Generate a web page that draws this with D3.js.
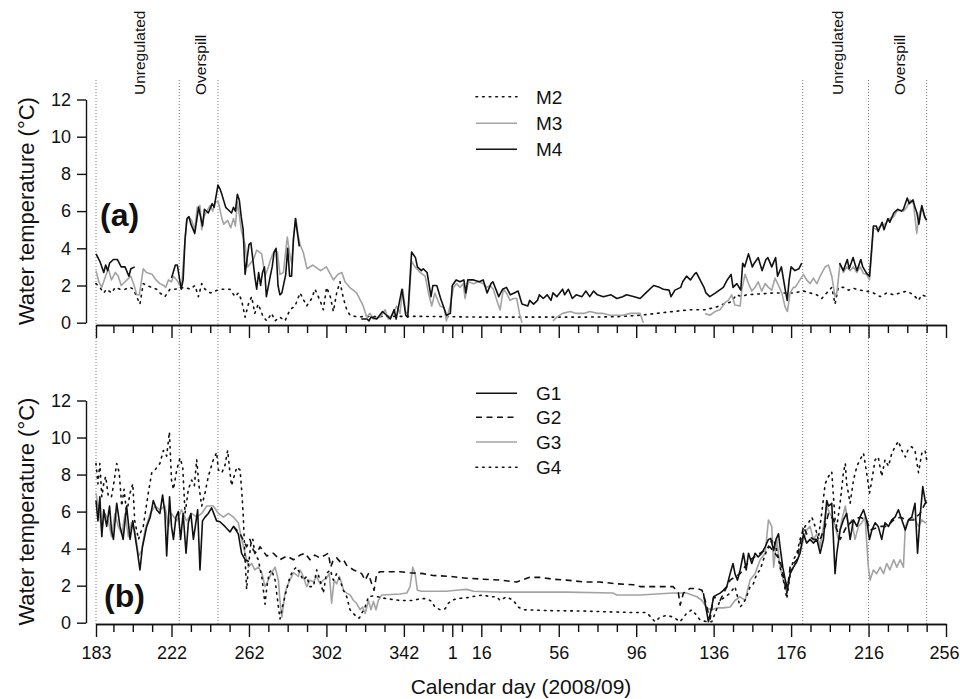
<!DOCTYPE html>
<html>
<head>
<meta charset="utf-8">
<script src="https://cdn.jsdelivr.net/npm/d3@7"></script>
<style>
  body { margin: 0; background: #fff; }
  svg { display: block; font-family: "Liberation Sans", Arial, Helvetica, sans-serif; }
</style>
</head>
<body>
<svg id="chart" width="960" height="699"></svg>
<script>
// days are counted on from 2008: day 1 of 2009 = 367
const tickDays = [183, 222, 262, 302, 342, 367, 382, 422, 462, 502, 542, 582, 622];
const tickLabels = ['183', '222', '262', '302', '342', '1', '16', '56', '96', '136', '176', '216', '256'];
const yTicks = [0, 2, 4, 6, 8, 10, 12];

// period limits (unregulated / overspill), 2008 and 2009
const periodDays = [183, 226, 246, 548, 582, 612];
const periodLabels = [
  { from: 183, to: 226, text: 'Unregulated' },
  { from: 226, to: 246, text: 'Overspill' },
  { from: 548, to: 582, text: 'Unregulated' },
  { from: 582, to: 612, text: 'Overspill' },
];

// panel (a)
const M2 = [[183,2.1],[185,1.9],[187,1.6],[188.5,1.8],[191,1.6],[193,1.9],[195.4,1.8],[198,1.8],[200.6,1.9],[202.3,1.8],[204,1.4],[205.7,1.0],[207.4,2.1],[209.2,2.0],[211.8,1.9],[214.3,1.8],[216,1.6],[218.6,1.4],[221.2,1.8],[223.8,1.8],[226.4,1.85],[229,1.9],[231.6,1.8],[234.1,2.0],[235.9,1.4],[237.6,2.1],[239.3,1.8],[242,1.6],[244.5,1.7],[247,1.8],[249.6,1.8],[252.2,1.8],[254.8,1.4],[256.5,1.6],[258.2,1.2],[260,0.3],[261.7,1.0],[263.4,1.4],[265,0.5],[266.8,1.0],[269.4,0.3],[271.2,0.1],[273.7,0.5],[275.5,0.1],[278,0.3],[280.6,0.1],[283.2,0.7],[285.8,0.9],[288.4,1.6],[291.8,0.9],[294.4,1.3],[296.1,1.8],[298.7,1.2],[300.4,0.7],[302.1,1.9],[304,1.4],[305.6,0.6],[307.3,1.6],[309,2.2],[310.8,1.3],[312.5,0.7],[314.2,0.4],[317.6,0.32],[331,0.34],[349,0.34],[366,0.32],[383,0.3],[400,0.3],[418,0.3],[435,0.3],[452,0.32],[464,0.4],[472.6,0.5],[481,0.6],[490,0.7],[498,0.7],[503.6,0.85],[507,1.0],[510.5,1.1],[514,1.5],[516.5,1.4],[519,1.5],[533,1.6],[543,1.6],[548.4,1.7],[551.8,1.6],[555.3,1.5],[557.8,1.3],[560.4,1.6],[563,1.9],[564.7,1.0],[566.4,1.9],[569,1.9],[571.6,1.75],[574.2,1.85],[577.6,1.75],[581,1.7],[584.5,1.6],[588,1.4],[591.4,1.6],[595,1.5],[598.3,1.6],[601.7,1.7],[605.2,1.5],[607.8,1.2],[609.5,1.5],[612,1.4]];

const M3 = [[183,2.8],[184.5,2.2],[186,1.9],[187.6,2.4],[189.4,2.9],[191,2.3],[193,2.7],[194.5,2.5],[196,2.0],[199,2.3],[201,2.5],[203,1.9],[204,1.5],[205.4,1.5],[207.4,2.9],[209,2.7],[212,2.6],[214,2.3],[216,2.1],[218,2.0],[219,1.9],[220.4,2.3],[222,2.2],[223,2.5],[224.7,2.3],[226.4,2.0],[227.4,2.2],[228.5,3.8],[229.8,5.5],[231,5.7],[232.4,5.5],[234,5.0],[235.3,6.2],[236.7,6.3],[237.6,5.0],[238.8,5.7],[240.2,6.0],[242,6.3],[243.3,6.0],[244.5,6.5],[246.2,6.5],[248,5.6],[249,5.3],[251,5.5],[252.6,5.1],[254,5.6],[255,5.2],[256,6.5],[257,5.8],[258,5.0],[260,4.2],[261.3,3.0],[264.3,3.4],[266,3.9],[268.6,3.7],[270.3,2.5],[272,3.0],[273.2,3.4],[274.3,3.7],[275.5,3.9],[276.7,3.8],[278,2.6],[279.8,2.7],[280.6,3.5],[281.8,4.6],[283.2,3.6],[284.1,3.2],[284.9,4.5],[286.3,5.6],[287.2,4.8],[288.4,4.2],[290,3.8],[292,2.9],[295,3.1],[299,2.8],[302,3.0],[305.6,2.3],[308,2.6],[310,2.7],[311.6,2.2],[314,1.9],[317.6,1.6],[321,0.9],[322.8,0.3],[324.5,0.5],[326.3,0.2],[329.7,0.3],[332.3,0.7],[334,0.2],[336.6,0.5],[338.3,0.9],[340,0.5],[341.4,1.8],[343,0.5],[344.3,0.6],[346,3.3],[347.8,3.0],[350.4,2.7],[353,2.5],[354.7,1.6],[356.4,0.9],[358,1.6],[360.7,0.9],[362.8,0.8],[364,0.1],[365.8,0.9],[367.6,1.9],[369.3,2.1],[371,1.9],[372.7,2.1],[373.6,1.3],[375.3,2.2],[378,2.1],[380.5,2.2],[383,2.1],[384.8,1.9],[386.5,2.0],[388.2,1.8],[390,1.2],[391.7,0.7],[393.4,1.8],[395,1.6],[396.8,1.2],[398.6,1.3],[400.3,1.3],[401.7,0.5],[403,0.0],[404,null],[419,0.1],[421,0.3],[424,0.5],[428,0.6],[431,0.5],[435,0.5],[438,0.6],[442,0.5],[445,0.5],[448.5,0.4],[452,0.4],[455,0.4],[459,0.5],[464,0.5],[465.7,0.0],[466,null],[497.6,0.5],[500,0.4],[502.7,0.6],[505.3,0.7],[508,1.1],[509.6,1.2],[511.3,1.5],[513,0.95],[515.7,0.9],[516.5,1.75],[518.2,2.6],[520,2.1],[521.7,1.7],[523.4,1.9],[525,2.2],[526.8,1.7],[528.6,2.1],[530.3,1.9],[532,1.75],[533.7,2.4],[535.5,2.0],[537.2,1.6],[538.9,0.85],[540.1,0.6],[541.5,1.6],[543.2,1.9],[544.1,1.9],[548.4,2.6],[550,2.3],[551.8,2.1],[553.5,2.4],[555.3,2.1],[557,2.5],[559.6,3.0],[561.3,3.1],[563,2.5],[564.7,1.4],[565.6,1.6],[567.3,3.2],[569,2.7],[570.7,3.0],[572.5,2.8],[574.2,3.0],[575.9,2.7],[577.6,3.0],[579.4,2.65],[581,2.6],[582.5,2.3],[583.7,3.9],[584.5,5.1],[586.2,5.0],[588,5.2],[589.7,5.25],[591.4,5.4],[593,5.6],[595,5.7],[596.6,6.0],[598.3,6.05],[600,6.0],[601.7,6.2],[603.5,6.6],[605.2,6.4],[606.9,4.8],[608.3,5.9],[609.5,6.2],[611.2,5.6],[612,5.6]];

const M4 = [[183,3.7],[185,3.3],[187,2.7],[188,3.1],[189,2.8],[190,3.2],[192,3.4],[194,3.4],[195,3.2],[196,3.0],[198,3.0],[200,2.5],[201,2.9],[203,3.0],[204,null],[222,2.4],[224,3.1],[225,3.1],[227,1.8],[228,2.3],[229,4.5],[230,5.6],[231,5.7],[232,5.3],[234,4.8],[236,6.2],[238,5.2],[239,6.1],[241,5.9],[243,6.4],[244,6.2],[246,7.4],[247,7.2],[248,6.9],[250,6.2],[251,6.1],[253,5.9],[254,6.2],[255,6.0],[256,6.9],[257,6.6],[258,5.7],[259,5.0],[260,2.6],[262,4.2],[263,4.3],[265,2.5],[266,1.8],[267,2.7],[268,2.0],[269,2.7],[270,3.0],[271,1.4],[273,2.5],[274,3.0],[275,3.8],[276,4.0],[277,2.0],[278,1.5],[279,1.6],[281,2.6],[282,4.0],[283,2.5],[284,2.5],[285,4.5],[286,5.6],[288,4.1],[289,null],[320,0.2],[323,0.2],[324,0.1],[325,0.3],[328,0.2],[331,0.6],[333,0.4],[335,0.2],[337,0.7],[338,0.2],[341,1.8],[343,0.4],[344,0.3],[346,3.8],[348,3.5],[349,3.0],[351,2.8],[352,2.9],[354,2.7],[356,1.4],[357,2.0],[359,2.0],[361,1.3],[362,1.0],[364,0.4],[366,0.5],[367,2.0],[369,2.3],[371,2.2],[373,2.3],[374,1.6],[375,2.3],[378,2.3],[381,2.2],[383,2.3],[385,1.6],[387,2.1],[388,2.2],[391,1.4],[393,1.8],[395,1.9],[397,1.5],[399,1.6],[401,1.7],[403,1.0],[406,0.9],[407,1.2],[409,1.0],[411,1.2],[412,1.5],[414,1.3],[416,1.5],[418,1.2],[419,1.6],[421,1.4],[424,1.8],[425,1.5],[427,1.8],[429,1.3],[431,1.5],[434,1.4],[436,1.7],[438,1.4],[440,1.7],[442,1.5],[445,1.4],[449,1.5],[452,1.3],[455,1.4],[457,1.5],[461,1.4],[464,1.3],[467,1.6],[471,2.0],[474,1.9],[476,1.8],[479,1.75],[480,1.4],[482,1.75],[485,1.9],[486,2.2],[488,2.5],[490,2.3],[492,2.6],[493,2.7],[495,2.3],[497,1.9],[498,1.6],[500,1.4],[503,1.6],[505,1.75],[507,1.9],[509,2.3],[511,2.6],[512,1.9],[514,2.1],[516,1.75],[517,3.2],[518,3.0],[520,3.7],[522,3.0],[523,3.2],[525,3.5],[527,2.8],[529,3.4],[530,3.5],[532,3.0],[534,3.5],[535,2.5],[537,3.0],[539,1.75],[540,1.2],[541,2.3],[542,3.0],[544,2.8],[546,2.9],[547.5,3.2],[548.5,null],[567,3.2],[569,2.8],[571,3.4],[572,2.9],[574,3.5],[576,2.8],[578,3.4],[579,3.0],[581,2.65],[582.5,2.5],[583.7,4.1],[584.5,5.2],[586,5.2],[587,4.9],[589,5.4],[590,5.0],[592,5.6],[593,5.4],[595,5.9],[597,6.1],[599,6.0],[600,6.1],[602,6.7],[603,6.4],[605,6.6],[606,6.2],[607,5.9],[608,5.3],[609.5,6.3],[611,5.7],[612,5.5]];

// panel (b)
const G1 = [[183,6.6],[184,5.5],[185,6.8],[186,4.65],[187,6.1],[188.5,5.2],[190,6.3],[191,5.0],[192,4.5],[193.7,6.45],[195.4,5.2],[197,4.5],[198.8,6.3],[200.6,4.5],[202,5.5],[203,4.8],[204.3,3.9],[205.7,2.85],[207,4.1],[209.2,5.2],[211,5.7],[212.6,6.6],[214.3,6.1],[216,5.9],[217.4,6.9],[218.6,5.9],[219.5,3.6],[221,6.8],[222,5.2],[223,4.5],[224.3,5.7],[225.5,6.0],[226.7,4.5],[228,5.9],[229.5,3.75],[230.7,5.4],[232,5.9],[233.3,4.5],[234.7,5.5],[235.5,6.1],[236.7,2.85],[238,5.5],[239.3,5.7],[241,5.9],[242.7,6.2],[245.3,5.5],[247,5.45],[249.6,5.2],[252.2,4.9],[254,5.2],[256.5,4.8],[258.2,3.75],[260,3.4],[262,3.3],[263,null],[496.7,1.6],[499.3,0.05],[501,0.85],[502,1.4],[503.6,1.5],[505.3,1.6],[507,1.75],[508.8,1.95],[510.5,2.65],[512,3.2],[513,2.65],[514.3,2.3],[515.7,2.85],[517.4,3.75],[518.8,2.85],[520,3.75],[521.7,3.2],[523.4,3.75],[525,3.55],[526.8,3.75],[528.6,4.1],[530.3,4.5],[531.5,4.55],[533,3.9],[534.2,4.5],[535.5,4.8],[536.3,4.1],[537.7,3.0],[539,2.3],[540.1,1.85],[541.5,2.65],[543.2,3.0],[545,3.3],[546.6,3.75],[548.4,4.8],[550,4.3],[551.8,4.5],[553.5,4.3],[555.3,4.5],[557,3.75],[558.7,4.5],[560.4,6.6],[561.3,6.3],[563,6.45],[564.7,2.65],[565.6,3.75],[567.3,5.0],[569,5.55],[570.7,5.9],[572.5,4.5],[574.2,5.55],[576,5.2],[577.6,5.7],[579.4,6.1],[581,5.55],[582.5,4.5],[583.7,5.0],[585.4,5.4],[587,5.2],[588.8,4.5],[590.5,5.4],[592.3,5.2],[594,5.55],[595.7,5.7],[597.4,6.1],[599.2,5.55],[601,5.0],[602.6,5.55],[604.3,5.7],[606,6.45],[607.3,3.75],[608.6,5.7],[610,7.35],[611.2,6.6],[612,6.45]];

const G2 = [[254,5.2],[257.4,4.8],[260.8,4.1],[262.5,4.5],[264.3,3.9],[266,3.75],[267.7,4.1],[271.2,3.6],[274.6,3.75],[278,3.4],[281.5,3.6],[285,3.4],[288.4,3.65],[291,3.75],[293.5,3.4],[296,3.65],[298.7,3.5],[301.3,3.65],[303,3.75],[304.2,3.0],[305.6,3.4],[307.3,3.5],[309,3.3],[310.8,3.4],[312.5,3.1],[316,2.85],[318.5,2.75],[320.2,2.65],[322,2.3],[323.7,2.65],[325.4,2.1],[326.6,1.75],[328,2.65],[329.7,2.75],[340,2.75],[345,2.7],[352,2.65],[357,2.55],[366,2.5],[374.5,2.4],[383,2.35],[391.7,2.3],[400.3,2.2],[403,2.3],[407,2.45],[412,2.45],[419,2.35],[426,2.3],[435,2.2],[443,2.2],[452,2.1],[460.5,2.05],[464,1.95],[472.6,1.95],[481,1.95],[483.8,1.6],[484.7,0.95],[486.4,1.6],[489.8,1.85],[493.3,1.85],[496,1.75],[497.6,1.2],[499.3,0.5],[500.2,0.2],[502,1.4],[505.3,1.2],[510.5,2.3],[515.7,2.65],[520.8,3.4],[526,3.75],[531,4.1],[536.3,3.4],[539.8,1.6],[541.5,3.0],[545,3.4],[548.4,5.2],[550,4.8],[553.5,4.5],[557,4.5],[559.6,5.2],[561.3,5.9],[564,5.55],[567.3,4.5],[570.7,5.2],[574.2,5.55],[577.6,5.7],[581,5.55],[582.8,5.0],[588,5.2],[591.4,5.2],[595,5.55],[598.3,5.7],[601.7,5.55],[605.2,5.55],[608.6,5.9],[612,6.6]];

const G3 = [[183,7.0],[184.7,5.9],[186,5.0],[187.6,5.9],[189.4,5.5],[191,4.65],[192.8,5.9],[194.5,5.2],[196.3,4.8],[198,5.9],[199.7,4.65],[201.4,5.4],[203,5.0],[205,3.6],[206.6,3.9],[208.3,5.0],[211,5.9],[213.5,6.3],[216,6.1],[218.6,6.3],[220.4,5.2],[222,5.9],[224.7,5.5],[227.2,6.1],[229.8,5.5],[232.4,5.9],[235,5.7],[237.6,5.9],[240.2,6.3],[243.6,6.3],[246.2,5.9],[248.8,5.7],[251.4,5.9],[254,5.7],[256.5,5.4],[258.2,4.5],[260,3.75],[261.7,3.0],[263.4,3.2],[265,2.85],[266.8,3.0],[268.6,2.7],[270.3,1.95],[272,2.3],[273.7,2.7],[275.5,3.0],[277.2,2.3],[278,1.2],[279,0.3],[280.6,1.6],[282.3,2.1],[285,2.7],[287.5,2.5],[288.4,2.85],[290,2.5],[291.8,1.95],[293.5,2.3],[295.3,2.2],[297,2.5],[298.7,2.1],[300.4,2.3],[302,2.4],[303.5,2.65],[304.7,1.05],[306,2.3],[307.3,2.1],[308.7,2.5],[310,2.1],[310.8,1.75],[312.5,1.6],[314.2,1.5],[316,1.2],[317.6,1.05],[319.4,0.7],[320.7,0.85],[322,0.5],[323.7,1.2],[325,0.7],[326.3,1.15],[327.6,0.7],[328.8,1.2],[330.6,1.5],[340,1.55],[343.5,1.6],[345.2,1.95],[346.6,3.0],[347.8,2.65],[349,1.75],[351,1.7],[364,1.7],[369,1.75],[374.5,1.8],[378,1.7],[392,1.65],[409,1.65],[426,1.65],[450,1.6],[452,1.5],[464,1.5],[481,1.6],[488,1.6],[493.3,1.4],[496,1.2],[498.4,0.8],[501,0.7],[503.6,0.8],[507,0.8],[510.5,0.85],[513,1.2],[515.7,1.4],[518.2,1.2],[520.8,2.3],[523.4,2.65],[526,3.4],[528.6,3.75],[530.3,5.55],[532,5.2],[533,3.0],[534.6,4.5],[536.3,3.0],[538,2.3],[539.8,1.6],[541.5,2.65],[543.2,3.0],[545,3.4],[546.6,3.75],[548.4,4.5],[550,5.0],[551.8,5.2],[553.5,4.5],[555.3,4.8],[557,4.1],[558.7,5.2],[560.4,6.3],[562,5.9],[564,5.55],[566.4,4.5],[568.2,5.55],[570,6.3],[571.6,5.2],[573.3,5.55],[575,4.5],[576.8,5.2],[578.5,5.4],[580.2,5.7],[581.9,3.0],[582.8,2.3],[584.5,2.85],[586.2,2.65],[588,3.0],[589.7,2.65],[591.4,3.2],[593,2.85],[595,3.4],[596.6,3.0],[598.3,3.4],[600,3.0],[601,5.2],[602.6,5.55],[604.3,5.7],[606,5.55],[607.8,5.2],[609.5,5.55],[611.2,5.4],[612,5.4]];

const G4 = [[183,8.6],[184,7.5],[185,8.6],[186,6.8],[187,7.5],[188,7.9],[189.4,6.8],[191,6.8],[192,7.4],[193.7,8.6],[195,8.1],[196.3,6.3],[197.5,7.2],[198.8,5.9],[200.6,7.0],[202,7.5],[203,5.5],[205,4.5],[205.7,4.8],[207.4,5.2],[210,7.0],[211.8,8.1],[213.5,8.25],[216,8.6],[217.8,9.3],[219.5,9.0],[220.9,10.3],[222,7.7],[223,7.2],[224.7,8.25],[226.4,8.9],[227.8,8.4],[229,5.9],[230.7,7.2],[232.4,7.7],[233.8,7.4],[235,8.8],[236.4,7.2],[237.6,6.3],[239.3,7.0],[241,7.9],[243.6,8.8],[245.3,9.2],[246.2,8.25],[248,8.1],[249.6,8.5],[251,9.3],[252.2,8.1],[253,7.4],[254.3,7.9],[255.7,8.4],[257.4,8.25],[258.2,7.2],[259,5.9],[260,3.4],[260.8,1.8],[261.7,3.0],[263,4.3],[264,4.5],[265,3.75],[266.8,3.4],[268.6,2.5],[270.3,1.0],[271.2,1.9],[272.5,2.7],[273.7,2.85],[275.5,2.3],[276.8,1.2],[278,0.2],[279.4,0.9],[281,1.6],[283.2,2.5],[285,2.85],[286.6,3.0],[288.4,2.65],[290,2.3],[291.8,2.5],[293.5,1.95],[295.3,1.95],[297,2.85],[298.7,2.3],[300.4,1.6],[302,2.65],[304,2.85],[305.6,2.3],[307.3,2.65],[309,2.3],[310.8,1.75],[312.5,1.4],[314.2,0.7],[316,0.5],[317.6,0.3],[319,0.25],[320.2,0.5],[322,0.85],[323.7,1.4],[326.3,1.45],[333,1.3],[340,1.2],[347,1.2],[350.4,1.3],[353.8,1.3],[356.4,1.15],[358,0.85],[360.7,0.7],[363.3,0.75],[365,1.05],[366.7,1.2],[369.3,1.3],[374.5,1.35],[379.6,1.45],[383,1.5],[386.5,1.4],[390,1.4],[391.7,1.2],[395,1.4],[398.6,1.2],[401,0.85],[403.7,0.7],[417.5,0.65],[434.7,0.63],[443,0.6],[460.5,0.55],[467.4,0.55],[470,0.25],[471.7,0.05],[474.3,0.3],[477.8,0.4],[481.2,0.3],[484.7,0.05],[488,0.5],[490.7,0.7],[492.4,0.5],[495,0.15],[498.4,0.05],[501,0.05],[502.7,0.5],[505.3,1.2],[508,1.4],[510.5,1.6],[513,1.95],[515.7,0.85],[517.4,1.05],[519,1.4],[520.8,1.95],[522.5,2.1],[524.3,2.65],[526,2.85],[527.7,3.4],[529.4,3.9],[531,4.3],[533,4.5],[534.6,3.9],[536.3,3.0],[538,2.3],[539.8,1.3],[541.5,2.65],[543.2,3.4],[545,3.75],[546.6,4.5],[549.2,5.2],[551,5.4],[552.7,5.7],[554.4,5.2],[556,4.5],[557.8,5.9],[559.6,7.5],[561.3,7.9],[563,8.15],[564.7,5.55],[565.6,5.2],[567.3,6.45],[569,8.1],[570,8.6],[570.7,7.5],[572.5,6.45],[574.2,7.7],[576,8.45],[577.6,8.8],[579.4,9.15],[581,8.1],[582.5,7.0],[583.7,7.7],[585.4,8.8],[587,8.95],[588.8,7.9],[590.5,8.8],[592.3,8.45],[594,9.15],[595.7,9.5],[597.4,9.8],[599.2,9.3],[601,8.95],[602.6,9.4],[604.3,9.5],[606,9.3],[607.8,8.1],[609.5,9.15],[611.2,9.3],[612,8.8]];

drawChart();

function drawChart() {
  const svg = d3.select('#chart');
  const x = d3.scaleLinear().domain([183, 622]).range([96, 946]);

  // line styles
  const styles = {
    dotted: { color: '#111', dash: '1.6,5', cap: 'round' },
    dashed: { color: '#111', dash: '6,4.5', cap: 'butt' },
    gray: { color: '#a3a3a3', dash: null, cap: 'butt' },
    black: { color: '#111', dash: null, cap: 'butt' },
  };

  const panels = [
    {
      yTop: 99.5, yZero: 322.7, axisY: 325, tag: '(a)', tagX: 100, tagY: 226, labels: false,
      legendY: [96.7, 123.3, 149.3],
      series: [
        { name: 'M2', data: M2, style: 'dotted' },
        { name: 'M3', data: M3, style: 'gray' },
        { name: 'M4', data: M4, style: 'black' },
      ],
      drawOrder: [0, 1, 2],
    },
    {
      yTop: 400.5, yZero: 622.7, axisY: 624, tag: '(b)', tagX: 104, tagY: 607, labels: true,
      legendY: [393.3, 417.3, 442, 467.3],
      series: [
        { name: 'G1', data: G1, style: 'black' },
        { name: 'G2', data: G2, style: 'dashed' },
        { name: 'G3', data: G3, style: 'gray' },
        { name: 'G4', data: G4, style: 'dotted' },
      ],
      drawOrder: [2, 3, 1, 0],
    },
  ];

  // vertical period lines, through both panels
  svg.append('g')
    .selectAll('line')
    .data(periodDays)
    .enter()
    .append('line')
    .attr('x1', (d) => x(d))
    .attr('x2', (d) => x(d))
    .attr('y1', 80)
    .attr('y2', 624)
    .attr('stroke', '#777')
    .attr('stroke-width', 1)
    .attr('stroke-dasharray', '1,2');

  // period names, rotated, reading upwards from y = 95
  svg.append('g')
    .selectAll('text')
    .data(periodLabels)
    .enter()
    .append('text')
    .attr('transform', (d) => `translate(${x((d.from + d.to) / 2) + 2},95) rotate(-90)`)
    .attr('dy', '0.36em')
    .attr('text-anchor', 'start')
    .attr('font-size', 15.5)
    .attr('fill', '#111')
    .text((d) => d.text);

  panels.forEach((p) => {
    const y = d3.scaleLinear().domain([0, 12]).range([p.yZero, p.yTop]);
    const g = svg.append('g');

    // y axis
    const yAxis = g.append('g')
      .attr('transform', 'translate(86,0)')
      .call(d3.axisLeft(y).tickValues(yTicks).tickSize(9).tickSizeOuter(0).tickPadding(6));
    styleAxis(yAxis);

    // x axis: major ticks (labelled only in bottom panel), then minor ticks
    const minor = d3.range(192, 623, 10).filter((d) => !tickDays.includes(d));
    const xMajor = g.append('g')
      .attr('transform', `translate(0,${p.axisY})`)
      .call(d3.axisBottom(x).tickValues(tickDays).tickSize(13).tickSizeOuter(0).tickPadding(9.5)
        .tickFormat((d, i) => (p.labels ? tickLabels[i] : '')));
    styleAxis(xMajor);
    // last label sits at the page edge, nudge it in a little
    xMajor.selectAll('.tick text').filter((d) => d === 622).attr('x', -2);
    const xMinor = g.append('g')
      .attr('transform', `translate(0,${p.axisY})`)
      .call(d3.axisBottom(x).tickValues(minor).tickSize(8).tickSizeOuter(0).tickFormat(''));
    styleAxis(xMinor);

    // y title
    g.append('text')
      .attr('transform', `translate(34,${(p.yTop + p.yZero) / 2}) rotate(-90)`)
      .attr('text-anchor', 'middle')
      .attr('font-size', 22)
      .attr('fill', '#111')
      .text('Water temperature (°C)');

    // series
    const line = d3.line()
      .defined((d) => d[1] != null)
      .x((d) => x(d[0]))
      .y((d) => y(d[1]));

    p.drawOrder.forEach((i) => {
      const s = p.series[i];
      const st = styles[s.style];
      g.append('path')
        .datum(s.data)
        .attr('d', line)
        .attr('fill', 'none')
        .attr('stroke', st.color)
        .attr('stroke-width', 1.6)
        .attr('stroke-linejoin', 'round')
        .attr('stroke-linecap', st.cap)
        .attr('stroke-dasharray', st.dash);
    });

    // legend
    const leg = g.append('g')
      .selectAll('g')
      .data(p.series)
      .enter()
      .append('g')
      .attr('transform', (d, i) => `translate(476,${p.legendY[i]})`);
    leg.append('line')
      .attr('x1', 0)
      .attr('x2', 41)
      .attr('stroke', (d) => styles[d.style].color)
      .attr('stroke-width', 1.6)
      .attr('stroke-linecap', (d) => styles[d.style].cap)
      .attr('stroke-dasharray', (d) => styles[d.style].dash);
    leg.append('text')
      .attr('x', 60)
      .attr('dy', '0.36em')
      .attr('font-size', 19)
      .attr('fill', '#111')
      .text((d) => d.name);

    // panel tag
    g.append('text')
      .attr('x', p.tagX)
      .attr('y', p.tagY)
      .attr('font-size', 32)
      .attr('font-weight', 'bold')
      .attr('fill', '#111')
      .text(p.tag);
  });

  // x title
  svg.append('text')
    .attr('x', 521)
    .attr('y', 694)
    .attr('text-anchor', 'middle')
    .attr('font-size', 21)
    .attr('fill', '#111')
    .text('Calendar day (2008/09)');
}

function styleAxis(sel) {
  sel.attr('font-family', null).attr('font-size', 18);
  sel.select('.domain').attr('stroke', '#111').attr('stroke-width', 1.4);
  sel.selectAll('.tick line').attr('stroke', '#111').attr('stroke-width', 1.4);
  sel.selectAll('.tick text').attr('fill', '#111');
}
</script>
</body>
</html>
